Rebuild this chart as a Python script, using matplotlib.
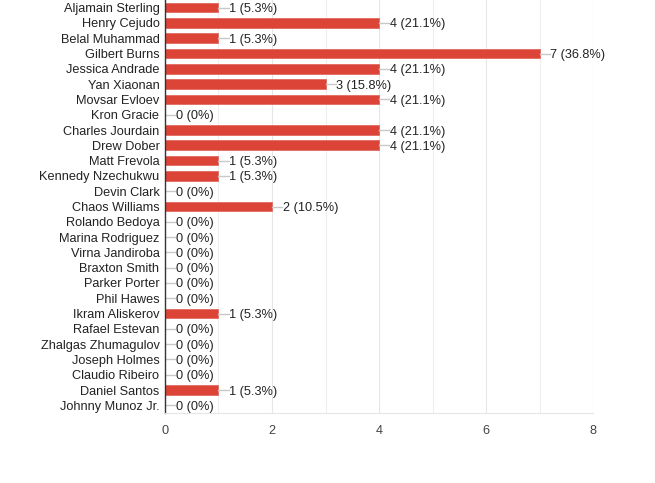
import matplotlib
matplotlib.use("Agg")
import matplotlib.pyplot as plt

names = ["Aljamain Sterling", "Henry Cejudo", "Belal Muhammad", "Gilbert Burns",
         "Jessica Andrade", "Yan Xiaonan", "Movsar Evloev", "Kron Gracie",
         "Charles Jourdain", "Drew Dober", "Matt Frevola", "Kennedy Nzechukwu",
         "Devin Clark", "Chaos Williams", "Rolando Bedoya", "Marina Rodriguez",
         "Virna Jandiroba", "Braxton Smith", "Parker Porter", "Phil Hawes",
         "Ikram Aliskerov", "Rafael Estevan", "Zhalgas Zhumagulov", "Joseph Holmes",
         "Claudio Ribeiro", "Daniel Santos", "Johnny Munoz Jr."]
counts = [1, 4, 1, 7, 4, 3, 4, 0, 4, 4, 1, 1, 0, 2, 0, 0, 0, 0, 0, 0, 1, 0, 0, 0, 0, 1, 0]
percents = ["5.3%", "21.1%", "5.3%", "36.8%", "21.1%", "15.8%", "21.1%", "0%",
            "21.1%", "21.1%", "5.3%", "5.3%", "0%", "10.5%", "0%", "0%", "0%",
            "0%", "0%", "0%", "5.3%", "0%", "0%", "0%", "0%", "5.3%", "0%"]
xticks = [0, 2, 4, 6, 8]

plt.rcParams['font.family'] = ['Liberation Sans', 'DejaVu Sans']

fig = plt.figure(figsize=(6.55, 4.83), dpi=100)
n = len(names)
ax = fig.add_axes([165/655, 1 - 413/483, (593-165)/655, 413/483])

ys = list(range(n))
for x in range(1, 9):
    ax.axvline(x, color="#eeeeee" if x % 2 else "#e6e6e6", lw=0.8, zorder=0)
ax.barh(ys, counts, height=0.63, color="#db4437", edgecolor="#e06055", lw=0.5, zorder=2)
for y, c, p in zip(ys, counts, percents):
    ax.plot([c, c + 0.19], [y, y], color="#c8c8c8", lw=1, zorder=2)
    ax.text(c + 0.2, y, f"{c} ({p})", va="center_baseline", ha="left",
            fontsize=9.2, color="#222222")

ax.set_ylim(n - 0.5, -0.5)
ax.set_xlim(0, 8)
ax.set_yticks(ys)
ax.set_yticklabels(names, fontsize=9.2, color="#222222", va="center_baseline")
ax.set_xticks(xticks)
ax.set_xticklabels([str(t) for t in xticks], fontsize=9.2, color="#444444")
ax.tick_params(axis="both", length=0, pad=4)
ax.tick_params(axis="x", pad=9)
for s in ["top", "right"]:
    ax.spines[s].set_visible(False)
ax.spines["bottom"].set_color("#e6e6e6")
ax.spines["bottom"].set_linewidth(0.8)
ax.spines["left"].set_color("#333333")
ax.spines["left"].set_linewidth(1)

fig.savefig("out.png", dpi=100)
